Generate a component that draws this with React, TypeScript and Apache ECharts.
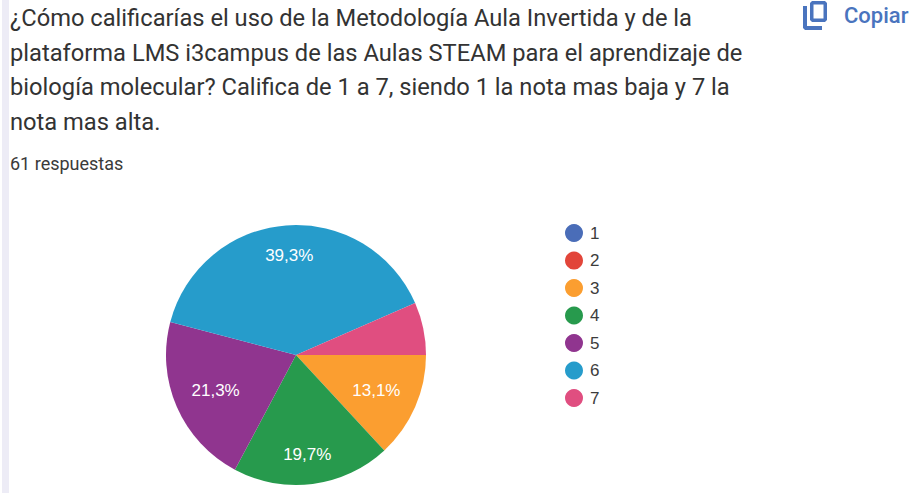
import React, { useEffect, useRef } from "react";
import * as echarts from "echarts";

const categories = ["3", "4", "5", "6", "7", "1", "2"];
const values = [8, 12, 13, 24, 4, 0, 0];
const colors = ["#FB9E30", "#279A4D", "#90358F", "#269CCB", "#E04E80", "#4A6DB8", "#E2453A"];
const labels = ["13,1%", "19,7%", "21,3%", "39,3%", "", "", ""];
const legendOrder = ["1", "2", "3", "4", "5", "6", "7"];
const titleLines = [
  "¿Cómo calificarías el uso de la Metodología Aula Invertida y de la",
  "plataforma LMS i3campus de las Aulas STEAM para el aprendizaje de",
  "biología molecular? Califica de 1 a 7, siendo 1 la nota mas baja y 7 la",
  "nota mas alta.",
];
const titleY = [18, 53, 87, 122];
const responses = "61 respuestas";
const copyLabel = "Copiar";
const centerX = 296;
const centerY = 355;

echarts.graphic.registerShape(
  "copyIcon",
  echarts.graphic.extendPath(
    "M0 5L4 5L4 25L19 25L19 29L2 29L0 27ZM9 0L22 0L24 2L24 19L22 21L9 21L7 19L7 2ZM10.5 3.5L10.5 17.5L20.5 17.5L20.5 3.5Z",
    {}
  ) as any
);

export default function App() {
  const ref = useRef<HTMLDivElement>(null);
  useEffect(() => {
    const chart = echarts.init(ref.current!, undefined, { renderer: "svg" });
    chart.setOption({
      animation: false,
      backgroundColor: "#ffffff",
      color: colors,
      legend: {
        left: 565,
        top: 224,
        padding: 0,
        orient: "vertical",
        icon: "circle",
        itemWidth: 18,
        itemHeight: 18,
        itemGap: 9.5,
        data: legendOrder,
        selectedMode: false,
        textStyle: { color: "#3c3c3c", fontSize: 17, fontFamily: "Liberation Sans", padding: [0, 0, 0, 2] },
      },
      series: [
        {
          type: "pie",
          center: [centerX, centerY],
          radius: [0, 130],
          startAngle: 0,
          clockwise: true,
          stillShowZeroSum: false,
          silent: true,
          label: {
            show: true,
            position: "inside",
            color: "#ffffff",
            fontSize: 17,
            fontFamily: "Liberation Sans",
            formatter: (p: any) => labels[p.dataIndex],
          },
          labelLayout: (p: any) => {
            const r = p.labelRect;
            const ox = r.x + r.width / 2 - centerX;
            const oy = r.y + r.height / 2 - centerY;
            return {
              dx: 0.29 * ox,
              dy: oy * (0.22 + 0.0037 * Math.abs(oy)),
            };
          },
          labelLine: { show: false },
          itemStyle: { borderWidth: 0 },
          data: categories.map((name, i) => ({ name, value: values[i] })),
        },
      ],
      graphic: [
        { type: "rect", shape: { x: 2, y: 0, width: 7, height: 493 }, style: { fill: "#EDECF6" } },
        ...titleLines.map((text, i) => ({
          type: "text",
          x: 10,
          y: titleY[i],
          style: { text, fontFamily: "Roboto", fontSize: 23.7, fill: "#333333", textVerticalAlign: "middle" },
        })),
        {
          type: "text",
          x: 10,
          y: 163,
          style: { text: responses, fontFamily: "Roboto", fontSize: 18, fill: "#3a3a3a", textVerticalAlign: "middle" },
        },
        { type: "copyIcon", x: 803, y: 1, style: { fill: "#4A74BE" } },
        {
          type: "text",
          x: 844,
          y: 15,
          style: { text: copyLabel, fontFamily: "Roboto", fontSize: 22, fontWeight: 500, fill: "#4A74BE", textVerticalAlign: "middle" },
        },
      ],
    });
    return () => chart.dispose();
  }, []);
  return <div ref={ref} style={{ position: "fixed", left: 0, top: 0, width: 912, height: 493 }} />;
}
